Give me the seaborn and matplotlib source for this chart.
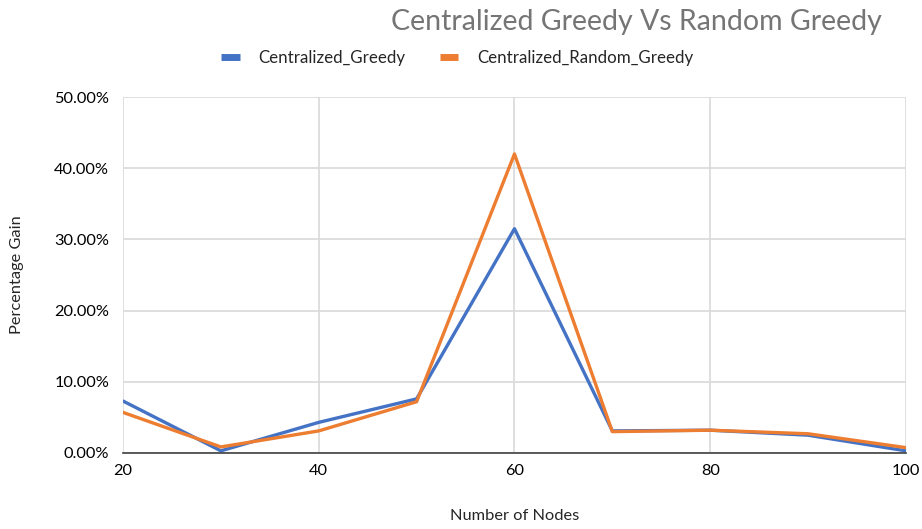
import pandas as pd
import matplotlib
matplotlib.use("Agg")
import matplotlib.pyplot as plt
import seaborn as sns
from matplotlib.ticker import PercentFormatter, MultipleLocator

# Data
nodes = [20, 30, 40, 50, 60, 70, 80, 90, 100]
centralized_greedy = [7.3, 0.3, 4.3, 7.6, 31.5, 3.1, 3.2, 2.5, 0.3]
centralized_random_greedy = [5.7, 0.85, 3.1, 7.2, 42.0, 3.0, 3.2, 2.7, 0.75]
series_names = ["Centralized_Greedy", "Centralized_Random_Greedy"]

df = pd.DataFrame({
    "Nodes": nodes * 2,
    "Gain": centralized_greedy + centralized_random_greedy,
    "Series": [series_names[0]] * len(nodes) + [series_names[1]] * len(nodes),
})

sns.set_style("white")
plt.rcParams["font.family"] = ["Lato", "DejaVu Sans"]

fig = plt.figure(figsize=(9.22, 5.29), dpi=100)
ax = fig.add_axes([0.1334, 0.1437, 0.8492, 0.6729])

palette = {series_names[0]: "#4472C4", series_names[1]: "#ED7D31"}
sns.lineplot(data=df, x="Nodes", y="Gain", hue="Series", palette=palette,
             linewidth=2.4, ax=ax, legend=False)

ax.set_xlim(20, 100)
ax.set_ylim(0, 50)
ax.xaxis.set_major_locator(MultipleLocator(20))
ax.yaxis.set_major_locator(MultipleLocator(10))
ax.yaxis.set_major_formatter(PercentFormatter(decimals=2))
ax.grid(True, color="#d9d9d9", linewidth=1.2)
ax.set_axisbelow(True)
for side in ["top", "right", "left"]:
    ax.spines[side].set_visible(False)
ax.spines["bottom"].set_color("#404040")
ax.spines["bottom"].set_linewidth(1.2)
ax.tick_params(axis="both", length=0, labelsize=11.8, colors="black", pad=8)
ax.tick_params(axis="y", pad=10)

ax.set_xlabel("Number of Nodes", fontsize=11.8, labelpad=22)
ax.set_ylabel("Percentage Gain", fontsize=11.8, labelpad=22)

fig.text(0.957, 0.958, "Centralized Greedy Vs Random Greedy", ha="right", va="center",
         fontsize=20.5, color="#757575")

handles = [plt.Line2D([], [], color=palette[n], linewidth=5, solid_capstyle="butt")
           for n in series_names]
fig.legend(handles, series_names, loc="center", bbox_to_anchor=(0.496, 0.89),
           ncol=2, frameon=False, fontsize=12.2, handlelength=1.1,
           columnspacing=2.0, handletextpad=1.1)

fig.savefig("out.png", dpi=100)
